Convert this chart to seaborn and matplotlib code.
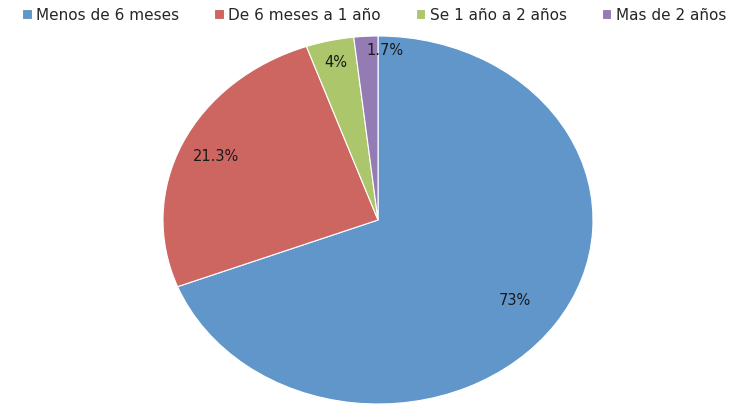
import numpy as np
import seaborn as sns
import matplotlib
matplotlib.use("Agg")
from matplotlib import pyplot as plt

# datos del grafico (tamanos de sector, etiquetas tal como aparecen)
categorias = ["Menos de 6 meses", "De 6 meses a 1 año", "Se 1 año a 2 años", "Mas de 2 años"]
sectores = [69.1, 25.5, 3.6, 1.8]
etiquetas = ["73%", "21.3%", "4%", "1.7%"]
colores = ["#6096CA", "#CD6660", "#ACC66C", "#957BB4"]

sns.set_theme(style="white")
plt.rcParams['font.family'] = ['DejaVu Sans']
paleta = sns.color_palette(colores)

fig = plt.figure(figsize=(7.44, 4.04), dpi=100)
# ejes elipticos: el pie queda mas ancho que alto
lim = 1.02
ax = fig.add_axes([(378 - 215 * lim) / 744, (184 - 184 * lim) / 404,
                   2 * 215 * lim / 744, 2 * 184 * lim / 404])

wedges, texts = ax.pie(sectores, colors=paleta, startangle=90, counterclock=False,
                       wedgeprops=dict(edgecolor="white", linewidth=0.8))
ax.set_aspect("auto")
ax.set_xlim(-lim, lim)
ax.set_ylim(-lim, lim)
ax.axis("off")

# etiquetas de porcentaje dentro de cada sector
radios = [0.77, 0.83, 0.88, 0.92]
alineacion = ["center", "center", "center", "left"]
for w, txt, r, ha in zip(wedges, etiquetas, radios, alineacion):
    ang = np.deg2rad((w.theta1 + w.theta2) / 2)
    ax.text(r * np.cos(ang), r * np.sin(ang), txt, ha=ha, va="center",
            fontsize=10.5, color="#1a1a1a")

leg = fig.legend(wedges, categorias, loc="upper center", bbox_to_anchor=(0.503, 1.015),
                 ncol=4, frameon=False, fontsize=11, handlelength=0.6, handleheight=0.6,
                 handletextpad=0.3, columnspacing=2.3)

fig.savefig("out.png", dpi=100)
